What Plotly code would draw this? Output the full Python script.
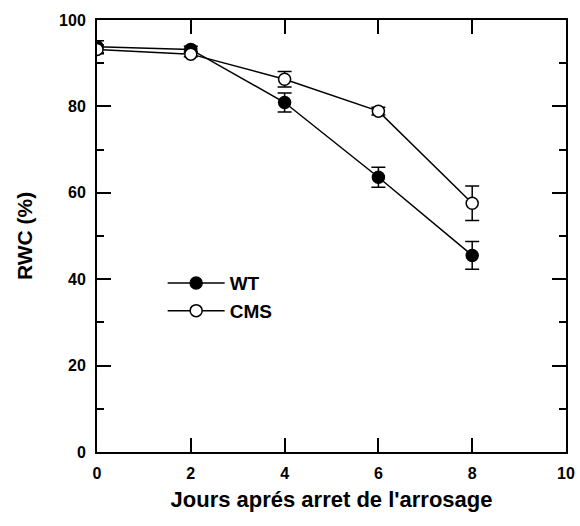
import plotly.graph_objects as go

# days after stopping irrigation
days = [0, 2, 4, 6, 8]

# relative water content (%) and error
wt_rwc = [93.8, 93.2, 80.9, 63.6, 45.5]
wt_err = [1.4, 0.7, 2.2, 2.3, 3.2]

cms_rwc = [93.2, 92.1, 86.3, 78.9, 57.6]
cms_err = [1.0, 0.6, 1.8, 0.9, 4.0]

FONT = "Liberation Sans, Arial, sans-serif"

fig = go.Figure()

fig.add_trace(
    go.Scatter(
        x=days,
        y=wt_rwc,
        error_y=dict(type="data", array=wt_err, color="black", thickness=1.5, width=7),
        mode="lines+markers",
        name="WT",
        line=dict(color="black", width=1.5),
        marker=dict(symbol="circle", size=12, color="black",
                    line=dict(color="black", width=1.5)),
    )
)

fig.add_trace(
    go.Scatter(
        x=days,
        y=cms_rwc,
        error_y=dict(type="data", array=cms_err, color="black", thickness=1.5, width=7),
        mode="lines+markers",
        name="CMS",
        line=dict(color="black", width=1.5),
        marker=dict(symbol="circle", size=12, color="white",
                    line=dict(color="black", width=1.5)),
    )
)

axis_common = dict(
    showgrid=False,
    zeroline=False,
    showline=True,
    linecolor="black",
    linewidth=2,
    mirror="ticks",
    ticks="inside",
    tickcolor="black",
    tickwidth=1.5,
    ticklen=14,
    automargin=False,
    tickfont=dict(family=FONT, size=16, color="black", weight="bold"),
)

fig.update_xaxes(
    **axis_common,
    range=[0, 10],
    dtick=2,
    tick0=0,
    ticklabelstandoff=6,
    title=dict(text="Jours aprés arret de l'arrosage", standoff=10,
               font=dict(family=FONT, size=22, color="black", weight="bold")),
)

fig.update_yaxes(
    **axis_common,
    range=[0, 100],
    dtick=20,
    tick0=0,
    ticklabelstandoff=6,
    minor=dict(dtick=10, ticks="inside", ticklen=7, tickcolor="black", tickwidth=1.5),
    title=dict(text="RWC (%)", standoff=21,
               font=dict(family=FONT, size=21, color="black", weight="bold")),
)

fig.update_layout(
    width=580,
    height=526,
    margin=dict(l=97, r=14, t=20, b=74),
    paper_bgcolor="white",
    plot_bgcolor="white",
    showlegend=True,
    legend=dict(
        x=0.14,
        y=0.435,
        xanchor="left",
        yanchor="top",
        bgcolor="rgba(0,0,0,0)",
        font=dict(family=FONT, size=19, color="black", weight="bold"),
        tracegroupgap=0,
        itemwidth=57,
    ),
)

# drop the default body margin so the figure sits at the page corner
fig.write_html(
    "out.html",
    config={"displayModeBar": False},
    post_script="document.body.style.margin = '0px';",
)
